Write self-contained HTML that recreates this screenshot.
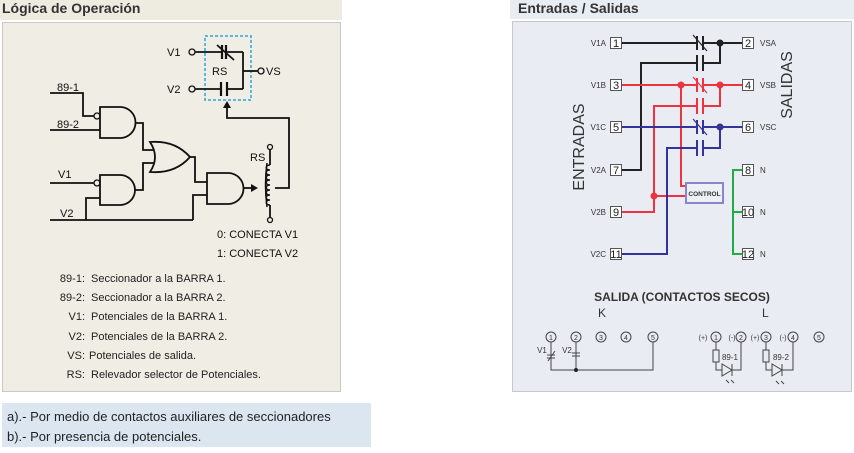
<!DOCTYPE html>
<html><head><meta charset="utf-8"><style>
body{margin:0;width:854px;height:453px;background:#fff;overflow:hidden;font-family:"Liberation Sans",sans-serif}
svg{position:absolute;left:0;top:0}
</style></head><body>
<svg width="854" height="453" viewBox="0 0 854 453" font-family="Liberation Sans, sans-serif">
<!-- left panel -->
<rect x="0" y="0" width="342" height="20" fill="#eeebe0"/>
<text x="2" y="13" font-size="14" font-weight="bold" fill="#333">Lógica de Operación</text>
<rect x="2.5" y="22.5" width="338" height="369" fill="#efede4" stroke="#c8c8c8"/>
<rect x="2" y="403" width="369" height="44" fill="#dce6f1"/>
<text x="7" y="421" font-size="13" fill="#222">a).- Por medio de contactos   auxiliares de seccionadores</text>
<text x="7" y="441" font-size="13" fill="#222">b).- Por presencia de potenciales.</text>
<g stroke="#111" stroke-width="1.8" fill="none">
<rect x="205" y="36" width="46" height="64" stroke="#2aa6e0" stroke-width="1.5" stroke-dasharray="3,2"/>
<circle cx="192" cy="52" r="3" stroke-width="1.3"/><line x1="195" y1="52" x2="222" y2="52"/><line x1="226" y1="52" x2="243" y2="52"/>
<line x1="222" y1="45" x2="222" y2="59" stroke-width="2.2"/><line x1="226" y1="45" x2="226" y2="59" stroke-width="2.2"/><line x1="217" y1="45" x2="234" y2="60"/>
<circle cx="192" cy="89" r="3" stroke-width="1.3"/><line x1="195" y1="89" x2="221" y2="89"/><line x1="227" y1="89" x2="243" y2="89"/>
<line x1="221" y1="82" x2="221" y2="96" stroke-width="2.2"/><line x1="227" y1="82" x2="227" y2="96" stroke-width="2.2"/>
<line x1="243" y1="52" x2="243" y2="89"/><line x1="243" y1="71" x2="258" y2="71"/><circle cx="261" cy="71" r="3" stroke-width="1.3"/>
<polyline points="227,106 227,118 289,118 289,188 275,188"/>
<polyline points="50,93 83,93 83,116 94,116"/><circle cx="97" cy="116" r="3" stroke-width="1.3"/>
<line x1="50" y1="130" x2="100" y2="130"/>
<path d="M100,107 H120 A15.5,15.5 0 0 1 120,138 H100 Z"/>
<polyline points="135,123 143,123 143,150 154,150"/>
<path d="M150,142 Q175,140 190,157 Q175,174 150,172 Q160,157 150,142 Z"/>
<polyline points="50,183 94,183"/><circle cx="97" cy="183" r="3" stroke-width="1.3"/>
<path d="M100,175 H120 A15,15 0 0 1 120,205 H100 Z"/>
<polyline points="100,198 86,198 86,220"/><line x1="50" y1="220" x2="193" y2="220"/>
<polyline points="135,190 143,190 143,163 154,163"/>
<polyline points="190,157 195,157 195,182 207,182"/>
<polyline points="193,220 193,195 207,195"/>
<path d="M207,173 H228 A15.5,15.5 0 0 1 228,204 H207 Z"/>
<line x1="243" y1="188" x2="252" y2="188"/>
<circle cx="270" cy="147" r="2.5" stroke-width="1.3"/><circle cx="270" cy="220" r="2.5" stroke-width="1.3"/>
<line x1="270" y1="150" x2="270" y2="165"/><line x1="270" y1="205" x2="270" y2="217"/>
<path d="M270,165 c-5,0 -5,5 0,5 c-5,0 -5,5 0,5 c-5,0 -5,5 0,5 c-5,0 -5,5 0,5 c-5,0 -5,5 0,5 c-5,0 -5,5 0,5 c-5,0 -5,5 0,5 c-5,0 -5,5 0,5" stroke-width="1.5"/>
<path d="M267,163 Q264,185 267,207" stroke-width="1.5"/>
</g>
<polygon points="227,101 223,108 231,108" fill="#111"/>
<polygon points="258,188 251,184 251,192" fill="#111"/>
<g font-size="11" fill="#111">
<text x="167" y="56">V1</text><text x="167" y="93">V2</text><text x="212" y="75">RS</text><text x="266" y="75">VS</text>
<text x="57" y="91">89-1</text><text x="57" y="128">89-2</text><text x="58" y="178">V1</text><text x="60" y="217">V2</text>
<text x="250" y="161">RS</text>
<text x="217" y="238">0: CONECTA V1</text><text x="217" y="257">1: CONECTA V2</text>
</g>
<g font-size="11" fill="#222">
<text x="85" y="282" text-anchor="end">89-1:</text><text x="91" y="282">Seccionador a la BARRA 1.</text>
<text x="85" y="301" text-anchor="end">89-2:</text><text x="91" y="301">Seccionador a la BARRA 2.</text>
<text x="85" y="320" text-anchor="end">V1:</text><text x="91" y="320">Potenciales de la BARRA 1.</text>
<text x="85" y="340" text-anchor="end">V2:</text><text x="91" y="340">Potenciales de la BARRA 2.</text>
<text x="85" y="359" text-anchor="end">VS:</text><text x="89" y="359">Potenciales de salida.</text>
<text x="85" y="378" text-anchor="end">RS:</text><text x="91" y="378">Relevador selector de Potenciales.</text>
</g>
<!-- right panel -->
<rect x="510" y="0" width="344" height="19" fill="#e8ecf3"/>
<text x="518" y="13" font-size="14" font-weight="bold" fill="#333">Entradas / Salidas</text>
<rect x="512.5" y="21.5" width="339" height="370" fill="#e9edf3" stroke="#c8c8c8"/>
<g font-size="8" fill="#333">
<text x="606" y="46" text-anchor="end">V1A</text><text x="606" y="88" text-anchor="end">V1B</text><text x="606" y="130" text-anchor="end">V1C</text>
<text x="606" y="173" text-anchor="end">V2A</text><text x="606" y="215" text-anchor="end">V2B</text><text x="606" y="257" text-anchor="end">V2C</text>
<text x="760" y="46">VSA</text><text x="760" y="88">VSB</text><text x="760" y="130">VSC</text>
<text x="760" y="173">N</text><text x="760" y="215">N</text><text x="760" y="257">N</text>
</g>
<text transform="translate(584,147) rotate(-90)" font-size="16" fill="#333" text-anchor="middle">ENTRADAS</text>
<text transform="translate(792,85) rotate(-90)" font-size="16" fill="#333" text-anchor="middle">SALIDAS</text>
<g fill="none" stroke-width="2">
<g stroke="#222"><polyline points="617,43 697,43"/><polyline points="703,43 742,43"/><polyline points="617,170 641,170 641,63 697,63"/><polyline points="703,63 720,63 720,43"/>
<line x1="697" y1="36" x2="697" y2="50"/><line x1="703" y1="36" x2="703" y2="50"/><line x1="693" y1="35" x2="707" y2="51" stroke-width="1.2"/><line x1="697" y1="55" x2="697" y2="71"/><line x1="703" y1="55" x2="703" y2="71"/></g>
<g stroke="#ee3340"><polyline points="617,85 697,85"/><polyline points="703,85 742,85"/><polyline points="617,212 654,212 654,106 697,106"/><polyline points="703,106 720,106 720,85"/>
<polyline points="681,85 681,186 686,186"/><line x1="654" y1="196" x2="686" y2="196"/>
<line x1="697" y1="78" x2="697" y2="92"/><line x1="703" y1="78" x2="703" y2="92"/><line x1="693" y1="77" x2="707" y2="93" stroke-width="1.2"/><line x1="697" y1="98" x2="697" y2="114"/><line x1="703" y1="98" x2="703" y2="114"/></g>
<g stroke="#33339a"><polyline points="617,127 697,127"/><polyline points="703,127 742,127"/><polyline points="617,254 667,254 667,148 697,148"/><polyline points="703,148 720,148 720,127"/>
<line x1="697" y1="120" x2="697" y2="134"/><line x1="703" y1="120" x2="703" y2="134"/><line x1="693" y1="119" x2="707" y2="135" stroke-width="1.2"/><line x1="697" y1="140" x2="697" y2="156"/><line x1="703" y1="140" x2="703" y2="156"/></g>
<g stroke="#22aa44"><polyline points="742,170 733,170 733,254 742,254"/><line x1="733" y1="212" x2="742" y2="212"/></g>
</g>
<circle cx="720" cy="43" r="3.5" fill="#222"/><circle cx="681" cy="85" r="3.5" fill="#ee3340"/><circle cx="720" cy="85" r="3.5" fill="#ee3340"/><circle cx="720" cy="127" r="3.5" fill="#33339a"/><circle cx="654" cy="196" r="3.5" fill="#ee3340"/>
<rect x="686" y="183" width="37" height="20" fill="#eef0f6" stroke="#8a84c8" stroke-width="2"/>
<text x="704.5" y="196" font-size="6.5" font-weight="bold" fill="#333" text-anchor="middle">CONTROL</text>
<g font-size="11" fill="#222" text-anchor="middle">
<g fill="#fff" stroke="#555"><rect x="610.5" y="37.5" width="11" height="11"/><rect x="610.5" y="79.5" width="11" height="11"/><rect x="610.5" y="121.5" width="11" height="11"/><rect x="610.5" y="164.5" width="11" height="11"/><rect x="610.5" y="206.5" width="11" height="11"/><rect x="610.5" y="248.5" width="11" height="11"/>
<rect x="742.5" y="37.5" width="11" height="11"/><rect x="742.5" y="79.5" width="11" height="11"/><rect x="742.5" y="121.5" width="11" height="11"/><rect x="742.5" y="164.5" width="11" height="11"/><rect x="742.5" y="206.5" width="11" height="11"/><rect x="742.5" y="248.5" width="11" height="11"/></g>
<text x="616" y="47">1</text><text x="616" y="89">3</text><text x="616" y="131">5</text><text x="616" y="174">7</text><text x="616" y="216">9</text><text x="616" y="258">11</text>
<text x="748" y="47">2</text><text x="748" y="89">4</text><text x="748" y="131">6</text><text x="748" y="174">8</text><text x="748" y="216">10</text><text x="748" y="258">12</text>
</g>
<text x="682" y="301" font-size="12" font-weight="bold" fill="#333" text-anchor="middle">SALIDA (CONTACTOS SECOS)</text>
<text x="598" y="317" font-size="12" fill="#333">K</text><text x="762" y="317" font-size="12" fill="#333">L</text>
<g fill="none" stroke="#444" stroke-width="1">
<circle cx="551" cy="337" r="5"/><circle cx="576" cy="337" r="5"/><circle cx="601" cy="337" r="5"/><circle cx="626" cy="337" r="5"/><circle cx="653" cy="337" r="5"/>
<circle cx="716" cy="337" r="5"/><circle cx="741" cy="337" r="5"/><circle cx="766" cy="337" r="5"/><circle cx="793" cy="337" r="5"/><circle cx="819" cy="337" r="5"/>
<polyline points="551,342 551,370 653,370 653,342"/><line x1="576" y1="342" x2="576" y2="370"/>
<line x1="547" y1="355" x2="555" y2="355"/><line x1="547" y1="358" x2="555" y2="358"/><line x1="548" y1="361" x2="555" y2="351"/>
<line x1="572" y1="353" x2="580" y2="353"/><line x1="572" y1="356" x2="580" y2="356"/>
<polyline points="716,342 716,350"/><rect x="713" y="350" width="6" height="12"/><polyline points="716,362 716,370 722,370"/>
<polygon points="722,364 722,376 732,370"/><line x1="732" y1="364" x2="732" y2="376"/><polyline points="732,370 741,370 741,342"/>
<polyline points="766,342 766,350"/><rect x="763" y="350" width="6" height="12"/><polyline points="766,362 766,370 772,370"/>
<polygon points="772,364 772,376 782,370"/><line x1="782" y1="364" x2="782" y2="376"/><polyline points="782,370 793,370 793,342"/>
<line x1="726" y1="380" x2="729" y2="383"/><line x1="731" y1="380" x2="734" y2="383"/><line x1="776" y1="381" x2="779" y2="384"/><line x1="781" y1="381" x2="784" y2="384"/>
</g>
<circle cx="576" cy="370" r="2" fill="#222"/>
<g font-size="7" fill="#333" text-anchor="middle">
<text x="551" y="340">1</text><text x="576" y="340">2</text><text x="601" y="340">3</text><text x="626" y="340">4</text><text x="653" y="340">5</text>
<text x="716" y="340">1</text><text x="741" y="340">2</text><text x="766" y="340">3</text><text x="793" y="340">4</text><text x="819" y="340">5</text>
<text x="703" y="340">(+)</text><text x="732" y="340">(-)</text><text x="755" y="340">(+)</text><text x="783" y="340">(-)</text>
<text x="542" y="353" font-size="8">V1</text><text x="567" y="353" font-size="8">V2</text>
<text x="730" y="360" font-size="8">89-1</text><text x="781" y="360" font-size="8">89-2</text>
</g>
</svg>
</body></html>
